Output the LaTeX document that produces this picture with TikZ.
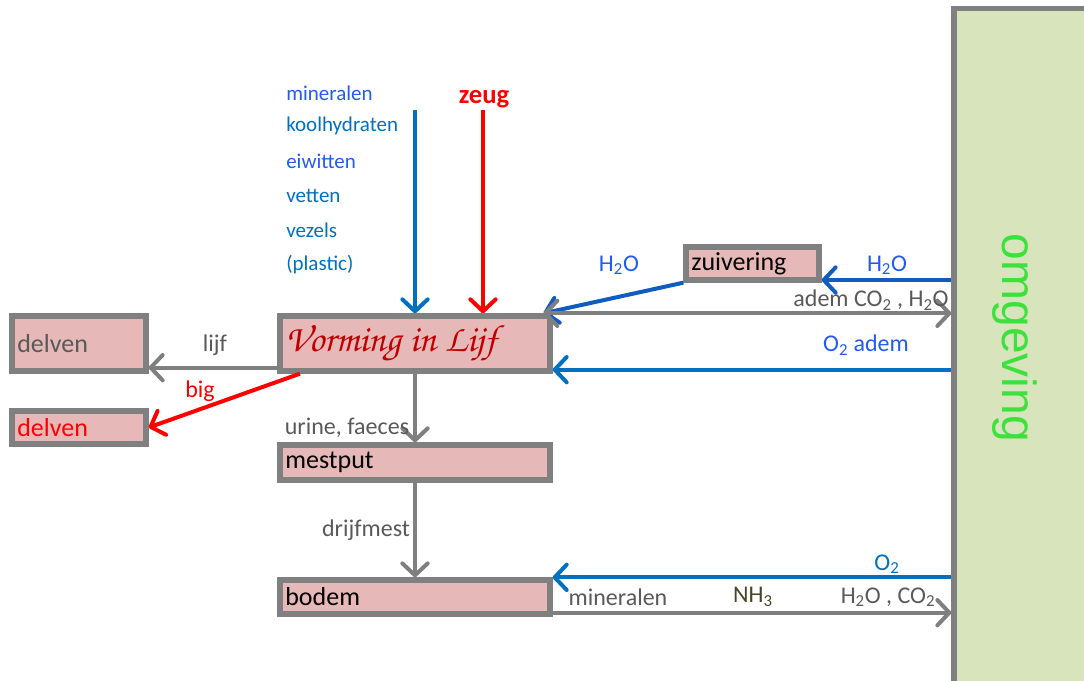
\documentclass[tikz,border=0pt]{standalone}
\usepackage[T1]{fontenc}
\usepackage{fontspec}
\setmainfont{Carlito}
\newfontfamily\omgfont{Liberation Sans}
\usetikzlibrary{arrows.meta,calc}
\definecolor{boxgray}{RGB}{128,128,128}
\definecolor{arrgray}{RGB}{127,127,127}
\definecolor{txtgray}{RGB}{89,89,89}
\definecolor{boxfill}{RGB}{230,184,183}
\definecolor{omgfill}{RGB}{216,228,188}
\definecolor{omggreen}{RGB}{60,225,60}
\definecolor{midblue}{RGB}{0,112,192}
\definecolor{darkblue}{RGB}{16,92,192}
\definecolor{txtblue}{RGB}{35,90,240}
\definecolor{scriptred}{RGB}{192,0,0}
\definecolor{nhcol}{RGB}{70,70,40}
\newcommand{\scriptfnt}{\fontencoding{T1}\fontfamily{pzc}\fontseries{mb}\fontshape{it}\selectfont}
\begin{document}
\begin{tikzpicture}[x=0.75pt,y=-0.75pt,
  box/.style={draw=boxgray, line width=4pt, fill=boxfill, inner xsep=4pt, inner ysep=0pt, align=left, font=\fontsize{19.5}{22}\selectfont},
  arr/.style={line width=3pt, -{Straight Barb[length=9pt,width=19pt,round]}},
  dbl/.style={line width=3pt, {Straight Barb[length=9pt,width=19pt,round]}-{Straight Barb[length=9pt,width=19pt,round]}},
  lbl/.style={font=\fontsize{18}{20}\selectfont, inner sep=0pt},
  lst/.style={font=\fontsize{15.75}{18}\selectfont, inner sep=0pt, anchor=west},
]
\useasboundingbox (0,0) rectangle (1084,681);
\clip (0,0) rectangle (1084,681);

% environment
\node[draw=boxgray, line width=4pt, fill=omgfill, minimum width=109.5pt, minimum height=518.6pt, inner sep=0pt] (omg) at (1027,354.25) {};
\node[rotate=-90, font=\omgfont\fontsize{36}{40}\selectfont, text=omggreen, inner sep=0pt] (omgtxt) at (1015,338) {omgeving};

% boxes
\node[box, minimum width=202.5pt, minimum height=41.25pt, text width=194.5pt] (viz) at (415,343.5) {\color{scriptred}\scriptfnt\fontsize{28.5}{30}\selectfont Vorming in Lijf};
\node[box, minimum width=100.5pt, minimum height=41.25pt, text width=92.5pt, text=txtgray] (d1) at (79,343.5) {delven};
\node[box, minimum width=100.5pt, minimum height=24.75pt, text width=92.5pt, text=red] (d2) at (79,427.5) {delven};
\node[box, minimum width=202.5pt, minimum height=26.25pt, text width=194.5pt] (mest) at (415,462.5) {mestput};
\node[box, minimum width=202.5pt, minimum height=25.5pt, text width=194.5pt] (bodem) at (415,597) {bodem};
\node[box, minimum width=99.75pt, minimum height=24.75pt, text width=91.75pt] (zuiv) at (752.5,263.5) {zuivering};

% inputs from top
\coordinate (bluetop) at (415,110);
\coordinate (redtop) at (483,110);
\draw[arr, midblue] (bluetop) -- (bluetop |- viz.north);
\draw[arr, red] (redtop) -- (redtop |- viz.north);
\node[lbl, text=red, font=\bfseries\fontsize{20}{22}\selectfont] (zeug) at (484,99) {zeug};
\node[lst, text=txtblue] (l1) at (286,93) {mineralen};
\node[lst, text=midblue] (l2) at (286,126) {koolhydraten};
\node[lst, text=txtblue] (l3) at (286,161) {eiwitten};
\node[lst, text=midblue] (l4) at (286,196) {vetten};
\node[lst, text=midblue] (l5) at (286,230) {vezels};
\node[lst, text=midblue] (l6) at (286,265) {(plastic)};

% left outputs
\draw[arr, arrgray] ([yshift=4.5pt]viz.south west) -- ([yshift=4.5pt]d1.south east);
\node[lbl, text=txtgray] (lijf) at (215,345) {lijf};
\draw[arr, red] ([xshift=17pt]viz.south west) -- (d2.east);
\node[lbl, text=red] (big) at (200,391) {big};

% downward chain
\draw[arr, arrgray] (viz.south) -- (mest.north);
\node[lbl, text=txtgray] (urine) at (347,428) {urine, faeces};
\draw[arr, arrgray] (mest.south) -- (bodem.north);
\node[lbl, text=txtgray] (drijf) at (366,530) {drijfmest};

% water via zuivering
\coordinate (zse) at ([yshift=2pt]zuiv.south east);
\draw[arr, darkblue] (omg.west |- zse) -- (zse);
\node[lbl, text=txtblue] (h2or) at (887,265) {H\textsubscript{2}O};
\draw[arr, darkblue] (zuiv.south west) -- ([xshift=-7pt]viz.north east);
\node[lbl, text=txtblue] (h2ol) at (619,265) {H\textsubscript{2}O};

% breathing
\coordinate (vne) at ([xshift=-7pt]viz.north east);
\draw[dbl, arrgray] (vne) -- (omg.west |- vne);
\node[lbl, text=txtgray] (adem) at (871,300) {adem CO\textsubscript{2} , H\textsubscript{2}O};
\coordinate (vse) at ([yshift=3pt]viz.south east);
\draw[arr, midblue] (omg.west |- vse) -- (vse);
\node[lbl, text=txtblue] (o2adem) at (866,345) {O\textsubscript{2} adem};

% soil exchange
\draw[arr, midblue] (omg.west |- bodem.north east) -- (bodem.north east);
\node[lbl, text=midblue] (o2) at (887,564) {O\textsubscript{2}};
\coordinate (bse) at ([yshift=3pt]bodem.south east);
\draw[arr, arrgray] (bse) -- (omg.west |- bse);
\node[lbl, text=txtgray] (minb) at (618,597) {mineralen};
\node[lbl, text=nhcol] (nh3) at (753,597) {NH\textsubscript{3}};
\node[lbl, text=txtgray] (h2oco2) at (888,597) {H\textsubscript{2}O , CO\textsubscript{2}};
\end{tikzpicture}
\end{document}
